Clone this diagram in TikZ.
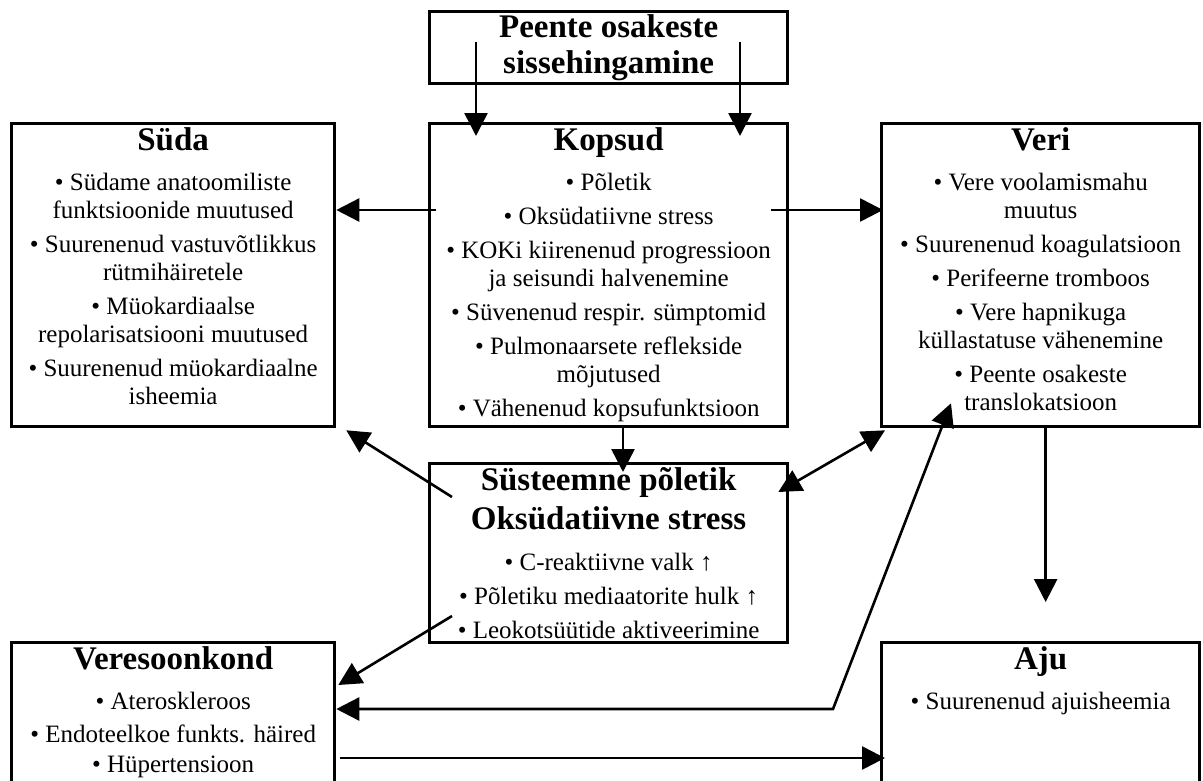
\documentclass[tikz,border=0pt]{standalone}
\usepackage{fontspec}
\setmainfont{Liberation Serif}
\usepackage{tikz}
\usetikzlibrary{arrows.meta, calc}

\newcommand{\bodyfont}{\fontsize{25}{28}\selectfont}
\newcommand{\hdrfont}{\fontsize{33}{36}\selectfont\bfseries}
\newcommand{\hd}[1]{{\hdrfont\rule{0pt}{23pt}#1}}

\tikzset{
    box/.style = {draw, line width = 3.3pt, anchor = north west, inner sep = 0pt},
    txt/.style = {align = center, anchor = north, inner sep = 0pt, font = \bodyfont},
    arr/.style = {line width = 2.6pt, -{Triangle[length = 23pt, width = 23pt]}},
    arrtwo/.style = {line width = 2.6pt, {Triangle[length = 23pt, width = 23pt]}-{Triangle[length = 23pt, width = 23pt]}},
}

\begin{document}
\begin{tikzpicture}[x = 1pt, y = -1pt]%{{{
                \clip (0, 0) rectangle (1203, 780);

                \node (peente) [box, minimum width = 358pt, minimum height = 72pt, font = \hdrfont, align = center] at (428, 10) {Peente osakeste\\sissehingamine};
                \node (suda) [box, minimum width = 323pt, minimum height = 303pt] at (10, 122) {};
                \node (kopsud) [box, minimum width = 358pt, minimum height = 303pt] at (428, 122) {};
                \node (veri) [box, minimum width = 318pt, minimum height = 303pt] at (880, 122) {};
                \node (systeem) [box, minimum width = 358pt, minimum height = 179pt] at (428, 462) {};
                \node (veres) [box, minimum width = 323pt, minimum height = 180pt] at (10, 641) {};
                \node (aju) [box, minimum width = 318pt, minimum height = 180pt] at (880, 641) {};

                \node (sudatxt) [txt] at ($(suda.north) + (0, 5)$) {\hd{Süda}\\[12pt]
                    • Südame anatoomiliste\\ funktsioonide muutused\\[6pt]
                    • Suurenenud vastuvõtlikkus\\ rütmihäiretele\\[6pt]
                    • Müokardiaalse\\ repolarisatsiooni muutused\\[6pt]
                    • Suurenenud müokardiaalne\\ isheemia};
                \node (kopsudtxt) [txt] at ($(kopsud.north) + (0, 5)$) {\hd{Kopsud}\\[12pt]
                    • Põletik\\[6pt]
                    • Oksüdatiivne stress\\[6pt]
                    • KOKi kiirenenud progressioon\\ ja seisundi halvenemine\\[6pt]
                    • Süvenenud respir. sümptomid\\[6pt]
                    • Pulmonaarsete reflekside\\ mõjutused\\[6pt]
                    • Vähenenud kopsufunktsioon};
                \node (veritxt) [txt] at ($(veri.north) + (0, 5)$) {\hd{Veri}\\[12pt]
                    • Vere voolamismahu\\ muutus\\[6pt]
                    • Suurenenud koagulatsioon\\[6pt]
                    • Perifeerne tromboos\\[6pt]
                    • Vere hapnikuga\\ küllastatuse vähenemine\\[6pt]
                    • Peente osakeste\\ translokatsioon};
                \node (systeemtxt) [txt] at ($(systeem.north) + (0, 5)$) {\hd{Süsteemne põletik}\\[8pt]\hd{Oksüdatiivne stress}\\[13pt]
                    • C-reaktiivne valk ↑\\[6pt]
                    • Põletiku mediaatorite hulk ↑\\[6pt]
                    • Leokotsüütide aktiveerimine};
                \node (verestxt) [txt] at ($(veres.north) + (0, 5)$) {\hd{Veresoonkond}\\[12pt]
                    • Ateroskleroos\\[5pt]
                    • Endoteelkoe funkts. häired\\[2pt]
                    • Hüpertensioon};
                \node (ajutxt) [txt] at ($(aju.north) + (0, 5)$) {\hd{Aju}\\[12pt]
                    • Suurenenud ajuisheemia};

                \coordinate (inL) at (476, 42);
                \coordinate (inR) at (740, 42);
                \coordinate (kopL) at (436, 210);
                \coordinate (kopR) at (771, 210);
                \coordinate (kopB) at ($(kopsud.south west) + (195, 0)$);
                \coordinate (sysNW) at (452, 497);
                \coordinate (sysSW) at (452, 616);
                \coordinate (bend) at (833, 709);
                \coordinate (vaStart) at (340, 758);

                \draw[arr] (inL) -- ($(inL |- kopsud.north) + (0, 14)$);
                \draw[arr] (inR) -- ($(inR |- kopsud.north) + (0, 14)$);
                \draw[arr] (kopL) -- (kopL -| suda.east);
                \draw[arr] (kopR) -- ($(kopR -| veri.west) + (3, 0)$);
                \draw[arr] (kopB) -- ($(kopB |- systeem.north) + (0, 10)$);
                \draw[arr] (sysNW) -- ($(suda.south east) + (10, 2)$);
                \draw[arr] (sysSW) -- ($(veres.north east) + (2, 44)$);
                \draw[arrtwo] ($(systeem.north east) + (-11, 30)$) -- ($(veri.south west) + (5, 2)$);
                \draw[arr] ($(veri.south) + (5, 0)$) -- ($(aju.north) + (5, -39)$);
                \draw[arrtwo] ($(veri.south west) + (71, -25)$) -- (bend) -- (bend -| veres.east);
                \draw[arr] (vaStart) -- ($(vaStart -| aju.west) + (5, 0)$);
\end{tikzpicture}
\end{document}
